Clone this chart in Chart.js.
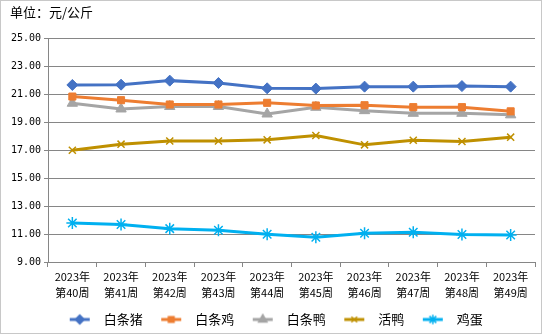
<!DOCTYPE html>
<html>
<head>
<meta charset="utf-8">
<script src="https://cdn.jsdelivr.net/npm/chart.js@4.4.1/dist/chart.umd.min.js"></script>
<style>
  html, body { margin: 0; padding: 0; background: #fff; }
  #wrap { width: 544px; height: 336px; }
</style>
</head>
<body>
<div id="wrap"><canvas id="c" width="544" height="336"></canvas></div>
<script>
// weeks (x axis)
const weeks = [
    ['2023年', '第40周'], ['2023年', '第41周'], ['2023年', '第42周'], ['2023年', '第43周'], ['2023年', '第44周'],
    ['2023年', '第45周'], ['2023年', '第46周'], ['2023年', '第47周'], ['2023年', '第48周'], ['2023年', '第49周']
];

// prices, 元/公斤
const pork = [21.68, 21.70, 21.99, 21.82, 21.44, 21.42, 21.56, 21.56, 21.60, 21.56];
const chicken = [20.85, 20.59, 20.28, 20.28, 20.40, 20.21, 20.23, 20.09, 20.09, 19.79];
const duck = [20.37, 19.96, 20.14, 20.14, 19.60, 20.08, 19.84, 19.65, 19.65, 19.54];
const liveDuck = [17.00, 17.44, 17.67, 17.67, 17.75, 18.06, 17.39, 17.72, 17.63, 17.94];
const eggs = [11.79, 11.68, 11.39, 11.27, 10.99, 10.77, 11.06, 11.13, 10.97, 10.94];

const seriesNames = ['白条猪', '白条鸡', '白条鸭', '活鸭', '鸡蛋'];
const seriesColors = ['#4472C4', '#ED7D31', '#A5A5A5', '#BF9000', '#00B0F0'];
const seriesMarkers = ['rectRot', 'rect', 'triangle', 'crossRot', 'star'];
const seriesRadius = [5.5, 5, 6, 5, 6];

// legend icon: short line with the marker in the middle
function legendIcon(color, style, radius) {
    const cv = document.createElement('canvas');
    cv.width = 24;
    cv.height = 14;
    const g = cv.getContext('2d');
    g.strokeStyle = color;
    g.lineWidth = 3;
    g.beginPath();
    g.moveTo(2, 7);
    g.lineTo(22, 7);
    g.stroke();
    g.fillStyle = color;
    g.lineWidth = 1.5;
    Chart.helpers.drawPoint(g, {pointStyle: style, radius: radius * 0.8, rotation: 0, borderWidth: 1.5}, 12, 7);
    return cv;
}

const allData = [pork, chicken, duck, liveDuck, eggs];
const datasets = allData.map((vals, i) => ({
    label: seriesNames[i],
    data: vals,
    borderColor: seriesColors[i],
    backgroundColor: seriesColors[i],
    borderWidth: 3,
    pointStyle: seriesMarkers[i],
    pointRadius: seriesRadius[i],
    pointBorderWidth: seriesMarkers[i] === 'crossRot' || seriesMarkers[i] === 'star' ? 1.5 : 1,
    pointHoverRadius: seriesRadius[i],
    tension: 0
}));

const icons = seriesNames.map((n, i) => legendIcon(seriesColors[i], seriesMarkers[i], seriesRadius[i]));

// outer frame
const framePlugin = {
    id: 'frame',
    afterDraw(chart) {
        const ctx = chart.ctx;
        ctx.save();
        ctx.strokeStyle = '#c8c8c8';
        ctx.lineWidth = 1;
        ctx.strokeRect(0.5, 0.5, 541, 333);
        ctx.restore();
    }
};

new Chart(document.getElementById('c'), {
    type: 'line',
    data: { labels: weeks, datasets: datasets },
    options: {
        responsive: false,
        animation: false,
        layout: { padding: { left: 10, right: 9, top: 4, bottom: 0 } },
        plugins: {
            title: {
                display: true,
                text: '单位：元/公斤',
                align: 'start',
                color: '#000',
                font: { family: '"Noto Sans CJK SC"', size: 13, weight: 'normal' },
                padding: { top: 0, bottom: 19 }
            },
            legend: {
                position: 'bottom',
                labels: {
                    usePointStyle: true,
                    pointStyleWidth: 35,
                    padding: 11,
                    color: '#000',
                    font: { family: '"Noto Sans CJK SC"', size: 13 },
                    generateLabels(chart) {
                        return chart.data.datasets.map((ds, i) => ({
                            text: ds.label,
                            pointStyle: icons[i],
                            fillStyle: ds.borderColor,
                            strokeStyle: ds.borderColor,
                            lineWidth: 0,
                            hidden: false,
                            datasetIndex: i,
                            fontColor: '#000'
                        }));
                    }
                }
            },
            tooltip: { enabled: false }
        },
        scales: {
            x: {
                offset: true,
                grid: {
                    display: true,
                    drawOnChartArea: false,
                    drawTicks: true,
                    tickLength: 5,
                    color: '#868686',
                    offset: true
                },
                border: { color: '#868686', width: 1 },
                ticks: {
                    color: '#000',
                    maxRotation: 0,
                    autoSkip: false,
                    padding: 2,
                    font: { family: '"Noto Sans CJK SC"', size: 11, lineHeight: 1.45 }
                },
                afterFit(scale) { scale.height = 40; }
            },
            y: {
                min: 9,
                max: 25,
                grid: { color: '#868686', tickLength: 4, drawTicks: true },
                border: { color: '#868686', width: 1 },
                ticks: {
                    stepSize: 2,
                    color: '#000',
                    padding: 3,
                    font: { family: '"DejaVu Sans Mono"', size: 10 },
                    callback: v => v.toFixed(2)
                },
                afterFit(scale) { scale.width = 38; }
            }
        }
    },
    plugins: [framePlugin]
});
</script>
</body>
</html>
